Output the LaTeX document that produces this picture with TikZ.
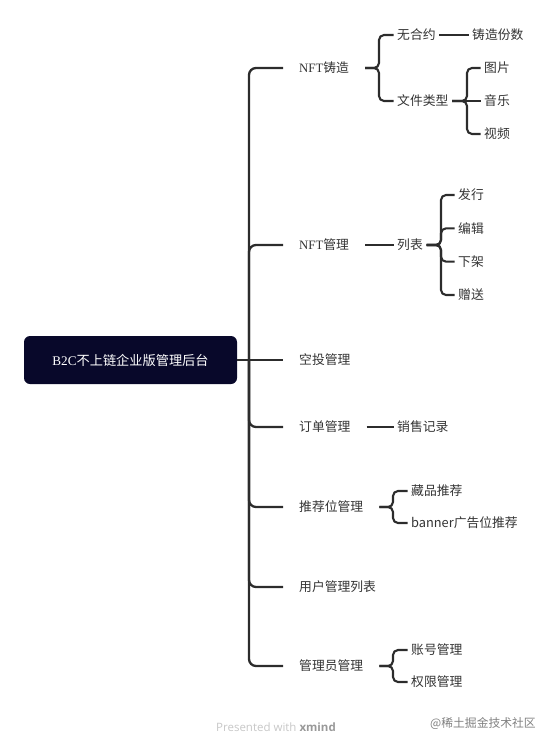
\documentclass[tikz,border=0pt]{standalone}
\usepackage{fontspec}
\setmainfont{Noto Sans CJK SC}
\newfontfamily\cjk{Noto Sans CJK SC}
\newfontfamily\serf{Liberation Serif}
\newfontfamily\footf{Open Sans}
\definecolor{ink}{RGB}{51,51,51}
\definecolor{linec}{RGB}{44,44,44}
\definecolor{rootc}{RGB}{8,8,42}
\begin{document}
\begin{tikzpicture}[x=1pt,y=-1pt,
  every node/.style={font=\fontsize{12.8}{14}\selectfont, text=ink},
  topic/.style={anchor=west, inner xsep=16pt, inner ysep=0pt, text height=10.3pt, text depth=0.5pt},
  leaf/.style={anchor=west, inner xsep=3.5pt, inner ysep=0pt, text height=10.3pt, text depth=0.5pt},
  trunk/.style={draw=linec, line width=2.3pt, rounded corners=7pt},
  twig/.style={draw=linec, line width=2.1pt, rounded corners=5pt},
]
\useasboundingbox (0,0) rectangle (553,750);
% root
\node[fill=rootc, rounded corners=6pt, minimum width=213pt, minimum height=48pt, text=white, inner sep=0pt, font=\fontsize{13.2}{15}\selectfont] (root) at (130.5,360) {{\serf B2C}不上链企业版管理后台};
\coordinate (tr) at (249,360);
% main topics
\node[topic] (m1) at (283,68) {{\serf NFT}铸造};
\node[topic] (m2) at (283,245) {{\serf NFT}管理};
\node[topic] (m3) at (283,360) {空投管理};
\node[topic] (m4) at (283,427) {订单管理};
\node[topic] (m5) at (283,507) {推荐位管理};
\node[topic] (m6) at (283,587) {用户管理列表};
\node[topic] (m7) at (283,666) {管理员管理};
\draw[trunk] (root.east) -- (m3.west);
\foreach \m in {m1,m2,m4,m5,m6,m7} {\draw[trunk] (tr) |- (\m.west);}
% NFT铸造
\node[leaf] (a1) at (393.5,35) {无合约};
\node[leaf] (a2) at (393.5,101) {文件类型};
\node[leaf] (a3) at (468.5,35) {铸造份数};
\node[leaf] (f1) at (480.5,68) {图片};
\node[leaf] (f2) at (480.5,101) {音乐};
\node[leaf] (f3) at (480.5,134) {视频};
\coordinate (b1) at (379,68);
\coordinate (b2) at (467,101);
\foreach \c in {a1,a2} {\draw[twig] (m1.east) -- (b1) |- (\c.west);}
\draw[twig] (a1.east) -- (a3.west);
\foreach \c in {f1,f3} {\draw[twig] (a2.east) -- (b2) |- (\c.west);}
\draw[twig] (a2.east) -- (f2.west);
% NFT管理
\node[leaf] (l) at (393.5,245) {列表};
\node[leaf] (l1) at (454.5,195) {发行};
\node[leaf] (l2) at (454.5,228.33) {编辑};
\node[leaf] (l3) at (454.5,261.67) {下架};
\node[leaf] (l4) at (454.5,295) {赠送};
\coordinate (b3) at (441,245);
\draw[twig] (m2.east) -- (l.west);
\foreach \c in {l1,l2,l3,l4} {\draw[twig] (l.east) -- (b3) |- (\c.west);}
% 订单管理
\node[leaf] (o1) at (393.5,427) {销售记录};
\draw[twig] (m4.east) -- (o1.west);
% 推荐位管理
\node[leaf] (r1) at (407.5,491) {藏品推荐};
\node[leaf] (r2) at (407.5,523) {banner广告位推荐};
\coordinate (b4) at (393,507);
\foreach \c in {r1,r2} {\draw[twig] (m5.east) -- (b4) |- (\c.west);}
% 管理员管理
\node[leaf] (g1) at (407.5,650) {账号管理};
\node[leaf] (g2) at (407.5,682) {权限管理};
\coordinate (b5) at (393,666);
\foreach \c in {g1,g2} {\draw[twig] (m7.east) -- (b5) |- (\c.west);}
% footer
\node[anchor=west, inner sep=0pt, font=\footf\fontsize{11.5}{13}\selectfont, text=black!22] (pw) at (216,727) {Presented with {\bfseries\color{black!40}xmind}};
\node[anchor=west, inner sep=0pt, font=\cjk\fontsize{11.8}{13}\selectfont, text=black!50] (jj) at (430,724) {@稀土掘金技术社区};
\end{tikzpicture}
\end{document}
